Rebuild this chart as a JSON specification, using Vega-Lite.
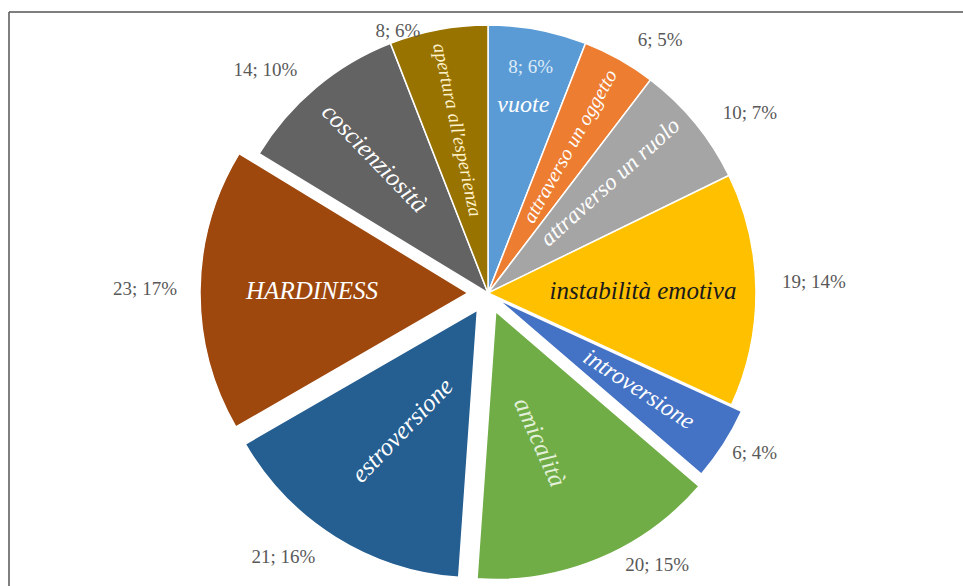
{
  "$schema": "https://vega.github.io/schema/vega-lite/v6.json",
  "width": 950,
  "height": 562,
  "autosize": {"type": "none"},
  "padding": {"left": 13, "top": 12, "right": 0, "bottom": 12},
  "background": "#ffffff",
  "config": {"view": {"stroke": null}},
  "data": {"values": [
    {"name": "vuote", "value": 8, "label": "8; 6%"},
    {"name": "attraverso un oggetto", "value": 6, "label": "6; 5%"},
    {"name": "attraverso un ruolo", "value": 10, "label": "10; 7%"},
    {"name": "instabilità emotiva", "value": 19, "label": "19; 14%"},
    {"name": "introversione", "value": 6, "label": "6; 4%"},
    {"name": "amicalità", "value": 20, "label": "20; 15%"},
    {"name": "estroversione", "value": 21, "label": "21; 16%"},
    {"name": "HARDINESS", "value": 23, "label": "23; 17%"},
    {"name": "coscienziosità", "value": 14, "label": "14; 10%"},
    {"name": "apertura all'esperienza", "value": 8, "label": "8; 6%"}
  ]},
  "layer": [
    {
      "transform": [{"stack": "value", "groupby": [], "as": ["v0", "v1"]}, {"filter": "indexof(['HARDINESS','estroversione','amicalità','introversione'], datum.name) < 0"}],
      "mark": {"type": "arc", "outerRadius": 268, "stroke": "#ffffff", "strokeWidth": 1.5},
      "encoding": {
        "theta": {"field": "v0", "type": "quantitative", "scale": {"domain": [0, 135], "nice": false}},
        "theta2": {"field": "v1"},
        "color": {"field": "name", "type": "nominal", "legend": null,
        "scale": {"domain": ["vuote", "attraverso un oggetto", "attraverso un ruolo", "instabilità emotiva", "introversione", "amicalità", "estroversione", "HARDINESS", "coscienziosità", "apertura all'esperienza"],
                  "range": ["#5B9BD5", "#ED7D31", "#A5A5A5", "#FFC000", "#4472C4", "#70AD47", "#255E91", "#9E480E", "#636363", "#997300"]}}}
    },
    {
      "transform": [{"stack": "value", "groupby": [], "as": ["v0", "v1"]}, {"filter": "datum.name === 'HARDINESS'"}],
      "mark": {"type": "arc", "outerRadius": 268, "stroke": "#ffffff", "strokeWidth": 1.5, "xOffset": -20, "yOffset": 0},
      "encoding": {"theta": {"field": "v0", "type": "quantitative"}, "theta2": {"field": "v1"}, "color": {"field": "name", "type": "nominal", "legend": null}}
    },
    {
      "transform": [{"stack": "value", "groupby": [], "as": ["v0", "v1"]}, {"filter": "datum.name === 'estroversione'"}],
      "mark": {"type": "arc", "outerRadius": 268, "stroke": "#ffffff", "strokeWidth": 1.5, "xOffset": -10.6, "yOffset": 17},
      "encoding": {"theta": {"field": "v0", "type": "quantitative"}, "theta2": {"field": "v1"}, "color": {"field": "name", "type": "nominal", "legend": null}}
    },
    {
      "transform": [{"stack": "value", "groupby": [], "as": ["v0", "v1"]}, {"filter": "datum.name === 'amicalità'"}],
      "mark": {"type": "arc", "outerRadius": 268, "stroke": "#ffffff", "strokeWidth": 1.5, "xOffset": 7.7, "yOffset": 18.5},
      "encoding": {"theta": {"field": "v0", "type": "quantitative"}, "theta2": {"field": "v1"}, "color": {"field": "name", "type": "nominal", "legend": null}}
    },
    {
      "transform": [{"stack": "value", "groupby": [], "as": ["v0", "v1"]}, {"filter": "datum.name === 'introversione'"}],
      "mark": {"type": "arc", "outerRadius": 268, "stroke": "#ffffff", "strokeWidth": 1.5, "xOffset": 10, "yOffset": 6.5},
      "encoding": {"theta": {"field": "v0", "type": "quantitative"}, "theta2": {"field": "v1"}, "color": {"field": "name", "type": "nominal", "legend": null}}
    },
    {
      "transform": [{"stack": "value", "groupby": [], "as": ["v0", "v1"]}],
      "mark": {"type": "text", "font": "Liberation Serif", "fontStyle": "italic", "align": "center", "baseline": "middle",
        "thetaOffset": {"expr": "datum.name === 'attraverso un ruolo' ? -0.05 : datum.name === 'amicalità' ? 0.06 : 0"},
        "radius": {"expr": "datum.name === 'vuote' ? 191 : datum.name === 'attraverso un oggetto' ? 168 : datum.name === 'attraverso un ruolo' ? 165 : datum.name === 'instabilità emotiva' ? 155 : datum.name === 'introversione' ? 179 : datum.name === 'amicalità' ? 158 : datum.name === 'estroversione' ? 162 : datum.name === 'HARDINESS' ? 176 : datum.name === 'coscienziosità' ? 176 : 166"}},
      "encoding": {
        "theta": {"field": "value", "type": "quantitative", "stack": true},
        "order": {"field": "v0", "type": "quantitative"},
        "text": {"field": "name"},
        "angle": {"condition": [
          {"test": "datum.name === 'attraverso un oggetto'", "value": -60.7},
          {"test": "datum.name === 'attraverso un ruolo'", "value": -42},
          {"test": "datum.name === 'introversione'", "value": 33},
          {"test": "datum.name === 'amicalità'", "value": 66},
          {"test": "datum.name === 'estroversione'", "value": -46},
          {"test": "datum.name === 'coscienziosità'", "value": 46},
          {"test": "indexof(datum.name, 'apertura') === 0", "value": 78}
        ], "value": 0},
        "size": {"condition": [
          {"test": "datum.name === 'vuote'", "value": 24},
          {"test": "datum.name === 'attraverso un oggetto'", "value": 20},
          {"test": "datum.name === 'attraverso un ruolo'", "value": 23},
          {"test": "datum.name === 'introversione'", "value": 24},
          {"test": "indexof(datum.name, 'apertura') === 0", "value": 19}
        ], "value": 25},
        "color": {"condition": [
          {"test": "datum.name === 'instabilità emotiva'", "value": "#1a1a1a"},
          {"test": "datum.name === 'amicalità'", "value": "#e2f0d9"},
          {"test": "indexof(datum.name, 'apertura') === 0", "value": "#fff2cc"}
        ], "value": "#ffffff"}
      }
    },
    {
      "transform": [{"stack": "value", "groupby": [], "as": ["v0", "v1"]}],
      "mark": {"type": "text", "font": "Liberation Serif", "fontSize": 19, "align": "center", "baseline": "middle",
        "thetaOffset": {"expr": "indexof(datum.name, 'apertura') === 0 ? -0.145 : datum.name === 'coscienziosità' ? -0.087 : datum.name === 'attraverso un oggetto' ? 0.086 : datum.name === 'attraverso un ruolo' ? 0.084 : datum.name === 'instabilità emotiva' ? -0.023 : datum.name === 'introversione' ? -0.03 : datum.name === 'amicalità' ? -0.161 : datum.name === 'estroversione' ? 0.101 : 0"},
        "radius": {"expr": "datum.name === 'vuote' ? 230 : indexof(datum.name, 'apertura') === 0 ? 277 : datum.name === 'coscienziosità' ? 315 : datum.name === 'attraverso un oggetto' ? 306 : datum.name === 'attraverso un ruolo' ? 318 : datum.name === 'instabilità emotiva' ? 326 : datum.name === 'introversione' ? 311 : datum.name === 'amicalità' ? 320 : datum.name === 'estroversione' ? 334 : 343"}},
      "encoding": {
        "theta": {"field": "value", "type": "quantitative", "stack": true},
        "order": {"field": "v0", "type": "quantitative"},
        "text": {"field": "label"},
        "color": {"condition": {"test": "datum.name === 'vuote'", "value": "#deebf7"}, "value": "#595959"}
      }
    },
    {
      "data": {"values": [{}]},
      "mark": {"type": "rule", "color": "#555555", "strokeWidth": 1.5},
      "encoding": {"x": {"value": -4}, "x2": {"value": 960}, "y": {"value": 0}}
    },
    {
      "data": {"values": [{}]},
      "mark": {"type": "rule", "color": "#555555", "strokeWidth": 1.5},
      "encoding": {"x": {"value": -4}, "y": {"value": 0}, "y2": {"value": 580}}
    }
  ]
}
